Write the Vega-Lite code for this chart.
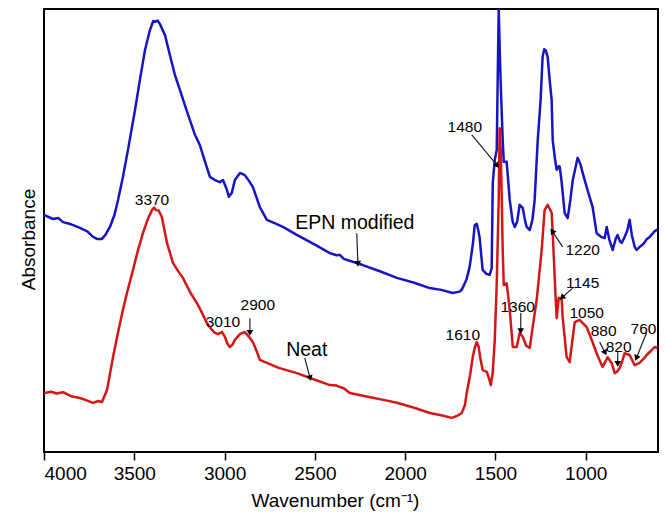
{
  "$schema": "https://vega.github.io/schema/vega-lite/v6.json",
  "width": 614,
  "height": 443,
  "autosize": {"type": "none"},
  "padding": {"left": 44, "top": 9, "right": 7, "bottom": 64},
  "background": "white",
  "config": {
    "view": {"stroke": "black", "strokeWidth": 2},
    "font": "Liberation Sans",
    "text": {"font": "Liberation Sans", "color": "black"}
  },
  "datasets": {
    "spectra": [
      {"series":"EPN modified","w":4000,"a":53.5},{"series":"EPN modified","w":3950,"a":52.6},{"series":"EPN modified","w":3920,"a":52.8},{"series":"EPN modified","w":3895,"a":51.9},{"series":"EPN modified","w":3850,"a":51.4},{"series":"EPN modified","w":3801,"a":50.6},{"series":"EPN modified","w":3760,"a":49.8},{"series":"EPN modified","w":3730,"a":48.6},{"series":"EPN modified","w":3707,"a":48.1},{"series":"EPN modified","w":3679,"a":48.1},{"series":"EPN modified","w":3660,"a":49.0},{"series":"EPN modified","w":3635,"a":50.8},{"series":"EPN modified","w":3610,"a":53.5},{"series":"EPN modified","w":3590,"a":56.9},{"series":"EPN modified","w":3563,"a":62.1},{"series":"EPN modified","w":3535,"a":68.2},{"series":"EPN modified","w":3496,"a":77.2},{"series":"EPN modified","w":3469,"a":84.0},{"series":"EPN modified","w":3441,"a":90.7},{"series":"EPN modified","w":3413,"a":95.3},{"series":"EPN modified","w":3395,"a":97.3},{"series":"EPN modified","w":3386,"a":97.1},{"series":"EPN modified","w":3372,"a":97.4},{"series":"EPN modified","w":3358,"a":96.6},{"series":"EPN modified","w":3330,"a":94.1},{"series":"EPN modified","w":3303,"a":89.6},{"series":"EPN modified","w":3275,"a":85.1},{"series":"EPN modified","w":3247,"a":81.7},{"series":"EPN modified","w":3220,"a":78.3},{"series":"EPN modified","w":3192,"a":74.9},{"series":"EPN modified","w":3164,"a":71.6},{"series":"EPN modified","w":3137,"a":69.3},{"series":"EPN modified","w":3100,"a":64.5},{"series":"EPN modified","w":3081,"a":62.1},{"series":"EPN modified","w":3050,"a":61.3},{"series":"EPN modified","w":3026,"a":60.9},{"series":"EPN modified","w":3009,"a":61.4},{"series":"EPN modified","w":2990,"a":59.5},{"series":"EPN modified","w":2976,"a":57.6},{"series":"EPN modified","w":2960,"a":58.5},{"series":"EPN modified","w":2943,"a":61.4},{"series":"EPN modified","w":2915,"a":63.0},{"series":"EPN modified","w":2888,"a":62.5},{"series":"EPN modified","w":2865,"a":61.2},{"series":"EPN modified","w":2843,"a":59.8},{"series":"EPN modified","w":2805,"a":55.3},{"series":"EPN modified","w":2766,"a":52.4},{"series":"EPN modified","w":2720,"a":51.6},{"series":"EPN modified","w":2677,"a":50.8},{"series":"EPN modified","w":2600,"a":49.0},{"series":"EPN modified","w":2500,"a":46.8},{"series":"EPN modified","w":2417,"a":44.9},{"series":"EPN modified","w":2380,"a":44.4},{"series":"EPN modified","w":2362,"a":44.5},{"series":"EPN modified","w":2340,"a":43.6},{"series":"EPN modified","w":2235,"a":42.2},{"series":"EPN modified","w":2140,"a":40.8},{"series":"EPN modified","w":2046,"a":39.3},{"series":"EPN modified","w":1950,"a":38.2},{"series":"EPN modified","w":1864,"a":37.0},{"series":"EPN modified","w":1800,"a":36.6},{"series":"EPN modified","w":1737,"a":35.9},{"series":"EPN modified","w":1700,"a":36.2},{"series":"EPN modified","w":1687,"a":36.6},{"series":"EPN modified","w":1660,"a":39.0},{"series":"EPN modified","w":1643,"a":41.8},{"series":"EPN modified","w":1625,"a":47.0},{"series":"EPN modified","w":1615,"a":51.2},{"series":"EPN modified","w":1604,"a":51.5},{"series":"EPN modified","w":1595,"a":50.0},{"series":"EPN modified","w":1588,"a":48.5},{"series":"EPN modified","w":1580,"a":45.0},{"series":"EPN modified","w":1571,"a":41.1},{"series":"EPN modified","w":1550,"a":40.2},{"series":"EPN modified","w":1532,"a":40.0},{"series":"EPN modified","w":1521,"a":41.5},{"series":"EPN modified","w":1515,"a":60.7},{"series":"EPN modified","w":1504,"a":65.9},{"series":"EPN modified","w":1493,"a":68.2},{"series":"EPN modified","w":1488,"a":83.3},{"series":"EPN modified","w":1482,"a":99.8},{"series":"EPN modified","w":1476,"a":90.0},{"series":"EPN modified","w":1471,"a":83.3},{"series":"EPN modified","w":1460,"a":70.4},{"series":"EPN modified","w":1454,"a":65.5},{"series":"EPN modified","w":1438,"a":65.5},{"series":"EPN modified","w":1421,"a":56.9},{"series":"EPN modified","w":1405,"a":52.0},{"series":"EPN modified","w":1393,"a":50.8},{"series":"EPN modified","w":1380,"a":52.0},{"series":"EPN modified","w":1366,"a":55.8},{"series":"EPN modified","w":1349,"a":55.1},{"series":"EPN modified","w":1335,"a":52.0},{"series":"EPN modified","w":1327,"a":50.8},{"series":"EPN modified","w":1310,"a":50.1},{"series":"EPN modified","w":1295,"a":52.5},{"series":"EPN modified","w":1283,"a":56.9},{"series":"EPN modified","w":1266,"a":70.4},{"series":"EPN modified","w":1250,"a":79.5},{"series":"EPN modified","w":1239,"a":89.2},{"series":"EPN modified","w":1230,"a":90.9},{"series":"EPN modified","w":1222,"a":90.7},{"series":"EPN modified","w":1211,"a":89.2},{"series":"EPN modified","w":1200,"a":84.0},{"series":"EPN modified","w":1189,"a":79.5},{"series":"EPN modified","w":1183,"a":70.4},{"series":"EPN modified","w":1170,"a":66.0},{"series":"EPN modified","w":1161,"a":63.7},{"series":"EPN modified","w":1150,"a":64.5},{"series":"EPN modified","w":1144,"a":64.4},{"series":"EPN modified","w":1133,"a":60.7},{"series":"EPN modified","w":1117,"a":54.0},{"series":"EPN modified","w":1100,"a":52.8},{"series":"EPN modified","w":1085,"a":57.0},{"series":"EPN modified","w":1072,"a":61.4},{"series":"EPN modified","w":1045,"a":66.4},{"series":"EPN modified","w":1030,"a":65.0},{"series":"EPN modified","w":1017,"a":63.0},{"series":"EPN modified","w":995,"a":59.8},{"series":"EPN modified","w":962,"a":55.3},{"series":"EPN modified","w":940,"a":49.4},{"series":"EPN modified","w":912,"a":48.5},{"series":"EPN modified","w":895,"a":48.3},{"series":"EPN modified","w":884,"a":50.8},{"series":"EPN modified","w":870,"a":48.0},{"series":"EPN modified","w":851,"a":45.6},{"series":"EPN modified","w":835,"a":48.0},{"series":"EPN modified","w":824,"a":49.0},{"series":"EPN modified","w":810,"a":47.5},{"series":"EPN modified","w":801,"a":47.2},{"series":"EPN modified","w":785,"a":48.5},{"series":"EPN modified","w":770,"a":50.0},{"series":"EPN modified","w":757,"a":52.4},{"series":"EPN modified","w":745,"a":49.0},{"series":"EPN modified","w":729,"a":46.3},{"series":"EPN modified","w":718,"a":45.6},{"series":"EPN modified","w":702,"a":46.3},{"series":"EPN modified","w":680,"a":47.0},{"series":"EPN modified","w":663,"a":48.0},{"series":"EPN modified","w":647,"a":48.5},{"series":"EPN modified","w":630,"a":49.3},{"series":"EPN modified","w":619,"a":49.8},{"series":"EPN modified","w":608,"a":50.1},{"series":"EPN modified","w":600,"a":50.3},
      {"series":"Neat","w":4000,"a":13.3},{"series":"Neat","w":3960,"a":13.6},{"series":"Neat","w":3930,"a":13.2},{"series":"Neat","w":3895,"a":13.5},{"series":"Neat","w":3850,"a":12.6},{"series":"Neat","w":3801,"a":12.2},{"series":"Neat","w":3760,"a":11.6},{"series":"Neat","w":3729,"a":11.1},{"series":"Neat","w":3700,"a":11.5},{"series":"Neat","w":3679,"a":11.3},{"series":"Neat","w":3651,"a":14.0},{"series":"Neat","w":3618,"a":21.4},{"series":"Neat","w":3590,"a":27.0},{"series":"Neat","w":3563,"a":32.1},{"series":"Neat","w":3535,"a":36.8},{"series":"Neat","w":3507,"a":41.1},{"series":"Neat","w":3480,"a":45.5},{"series":"Neat","w":3452,"a":49.4},{"series":"Neat","w":3425,"a":52.6},{"series":"Neat","w":3402,"a":54.6},{"series":"Neat","w":3390,"a":55.2},{"series":"Neat","w":3380,"a":54.6},{"series":"Neat","w":3365,"a":54.5},{"series":"Neat","w":3347,"a":53.0},{"series":"Neat","w":3319,"a":47.2},{"series":"Neat","w":3286,"a":42.7},{"series":"Neat","w":3260,"a":41.0},{"series":"Neat","w":3231,"a":39.3},{"series":"Neat","w":3190,"a":36.0},{"series":"Neat","w":3153,"a":33.6},{"series":"Neat","w":3125,"a":31.4},{"series":"Neat","w":3098,"a":29.1},{"series":"Neat","w":3075,"a":27.8},{"series":"Neat","w":3054,"a":26.9},{"series":"Neat","w":3035,"a":26.6},{"series":"Neat","w":3015,"a":27.1},{"series":"Neat","w":2998,"a":26.0},{"series":"Neat","w":2985,"a":24.5},{"series":"Neat","w":2971,"a":23.7},{"series":"Neat","w":2955,"a":24.3},{"series":"Neat","w":2943,"a":25.3},{"series":"Neat","w":2915,"a":26.6},{"series":"Neat","w":2888,"a":27.1},{"series":"Neat","w":2865,"a":26.0},{"series":"Neat","w":2843,"a":24.8},{"series":"Neat","w":2820,"a":22.5},{"series":"Neat","w":2805,"a":20.8},{"series":"Neat","w":2766,"a":20.1},{"series":"Neat","w":2700,"a":19.0},{"series":"Neat","w":2600,"a":17.8},{"series":"Neat","w":2500,"a":16.3},{"series":"Neat","w":2417,"a":15.1},{"series":"Neat","w":2380,"a":15.0},{"series":"Neat","w":2362,"a":14.7},{"series":"Neat","w":2340,"a":14.4},{"series":"Neat","w":2307,"a":13.3},{"series":"Neat","w":2200,"a":12.4},{"series":"Neat","w":2100,"a":11.6},{"series":"Neat","w":2046,"a":11.1},{"series":"Neat","w":1950,"a":10.0},{"series":"Neat","w":1864,"a":8.8},{"series":"Neat","w":1800,"a":8.3},{"series":"Neat","w":1742,"a":7.7},{"series":"Neat","w":1710,"a":8.2},{"series":"Neat","w":1687,"a":8.8},{"series":"Neat","w":1670,"a":10.5},{"series":"Neat","w":1659,"a":13.3},{"series":"Neat","w":1640,"a":17.5},{"series":"Neat","w":1626,"a":21.4},{"series":"Neat","w":1615,"a":23.5},{"series":"Neat","w":1604,"a":24.8},{"series":"Neat","w":1593,"a":23.7},{"series":"Neat","w":1583,"a":21.0},{"series":"Neat","w":1571,"a":18.5},{"series":"Neat","w":1548,"a":18.1},{"series":"Neat","w":1535,"a":16.5},{"series":"Neat","w":1526,"a":15.1},{"series":"Neat","w":1515,"a":18.0},{"series":"Neat","w":1504,"a":25.3},{"series":"Neat","w":1493,"a":38.1},{"series":"Neat","w":1482,"a":56.9},{"series":"Neat","w":1477,"a":73.1},{"series":"Neat","w":1471,"a":68.0},{"series":"Neat","w":1465,"a":56.9},{"series":"Neat","w":1460,"a":45.6},{"series":"Neat","w":1454,"a":37.7},{"series":"Neat","w":1438,"a":38.1},{"series":"Neat","w":1421,"a":32.1},{"series":"Neat","w":1404,"a":23.7},{"series":"Neat","w":1382,"a":23.7},{"series":"Neat","w":1366,"a":26.9},{"series":"Neat","w":1349,"a":26.0},{"series":"Neat","w":1330,"a":24.0},{"series":"Neat","w":1310,"a":23.5},{"series":"Neat","w":1294,"a":28.2},{"series":"Neat","w":1272,"a":34.3},{"series":"Neat","w":1244,"a":45.6},{"series":"Neat","w":1228,"a":54.6},{"series":"Neat","w":1211,"a":55.8},{"series":"Neat","w":1189,"a":54.0},{"series":"Neat","w":1183,"a":49.4},{"series":"Neat","w":1167,"a":35.0},{"series":"Neat","w":1161,"a":30.2},{"series":"Neat","w":1150,"a":34.8},{"series":"Neat","w":1133,"a":34.3},{"series":"Neat","w":1128,"a":30.5},{"series":"Neat","w":1106,"a":21.4},{"series":"Neat","w":1089,"a":20.3},{"series":"Neat","w":1075,"a":25.0},{"series":"Neat","w":1061,"a":29.3},{"series":"Neat","w":1034,"a":29.8},{"series":"Neat","w":995,"a":28.2},{"series":"Neat","w":967,"a":25.3},{"series":"Neat","w":940,"a":22.3},{"series":"Neat","w":907,"a":19.2},{"series":"Neat","w":890,"a":20.5},{"series":"Neat","w":879,"a":21.4},{"series":"Neat","w":857,"a":20.1},{"series":"Neat","w":840,"a":17.8},{"series":"Neat","w":825,"a":18.2},{"series":"Neat","w":812,"a":19.0},{"series":"Neat","w":798,"a":20.5},{"series":"Neat","w":785,"a":22.3},{"series":"Neat","w":757,"a":21.9},{"series":"Neat","w":729,"a":19.6},{"series":"Neat","w":702,"a":20.1},{"series":"Neat","w":680,"a":21.0},{"series":"Neat","w":663,"a":21.9},{"series":"Neat","w":640,"a":22.8},{"series":"Neat","w":619,"a":23.7},{"series":"Neat","w":608,"a":23.5},{"series":"Neat","w":600,"a":23.8}
    ],
    "arrows": [
      {"label":"2900","w1":2860,"a1":30.2,"w2":2860,"a2":27.1,"angle":180},
      {"label":"Neat","w1":2556,"a1":21.2,"w2":2528,"a2":16.9,"angle":165},
      {"label":"EPN modified","w1":2268,"a1":49.4,"w2":2262,"a2":42.7,"angle":178},
      {"label":"1480","w1":1631,"a1":71.6,"w2":1493,"a2":64.8,"angle":140},
      {"label":"1220","w1":1128,"a1":46.3,"w2":1183,"a2":49.7,"angle":-34},
      {"label":"1145","w1":1073,"a1":37.0,"w2":1128,"a2":35.0,"angle":-132},
      {"label":"1360","w1":1360,"a1":31.4,"w2":1360,"a2":27.5,"angle":180},
      {"label":"880","w1":923,"a1":24.8,"w2":895,"a2":22.6,"angle":153},
      {"label":"820","w1":823,"a1":22.6,"w2":823,"a2":20.1,"angle":180},
      {"label":"760","w1":663,"a1":26.9,"w2":718,"a2":21.4,"angle":-157}
    ],
    "peaks": [
      {"text":"3370","w":3402,"a":56.9},
      {"text":"3010","w":3009,"a":29.3},
      {"text":"2900","w":2816,"a":33.2},
      {"text":"1480","w":1670,"a":73.4},
      {"text":"1220","w":1017,"a":45.6},
      {"text":"1145","w":1017,"a":38.1},
      {"text":"1360","w":1377,"a":32.7},
      {"text":"1610","w":1681,"a":26.4},
      {"text":"1050","w":995,"a":31.4},
      {"text":"880","w":901,"a":27.3},
      {"text":"820","w":818,"a":23.7},
      {"text":"760","w":680,"a":27.8}
    ],
    "names": [
      {"text":"EPN modified","w":2279,"a":51.7},
      {"text":"Neat","w":2545,"a":23.0}
    ]
  },
  "encoding": {
    "x": {
      "field": "w", "type": "quantitative",
      "scale": {"domain": [600, 4000], "reverse": true, "nice": false, "zero": false},
      "axis": {
        "title": "Wavenumber (cm⁻¹)",
        "values": [4000, 3500, 3000, 2500, 2000, 1500, 1000],
        "format": "d",
        "grid": false, "domain": false,
        "tickSize": 8, "tickWidth": 1.5, "tickColor": "black",
        "labelFontSize": 19, "labelColor": "black", "labelPadding": 4,
        "labelFont": "Liberation Sans", "labelOverlap": false,
        "titleFontSize": 19, "titleFontWeight": "normal", "titleColor": "black",
        "titleFont": "Liberation Sans", "titlePadding": 8, "titleX": 291
      }
    },
    "y": {
      "field": "a", "type": "quantitative",
      "scale": {"domain": [0, 100], "nice": false},
      "axis": {
        "title": "Absorbance", "labels": false, "ticks": false, "domain": false, "grid": false,
        "titleFontSize": 19, "titleFontWeight": "normal", "titleColor": "black",
        "titleFont": "Liberation Sans", "titlePadding": 6, "titleY": 230
      }
    }
  },
  "layer": [
    {
      "data": {"name": "spectra"},
      "mark": {"type": "line", "strokeWidth": 2.5, "clip": true, "strokeJoin": "round"},
      "encoding": {
        "color": {"field": "series", "type": "nominal",
          "scale": {"domain": ["EPN modified", "Neat"], "range": ["#1515c4", "#d41616"]},
          "legend": null},
        "order": {"field": "w", "type": "quantitative", "sort": "descending"}
      }
    },
    {
      "data": {"name": "arrows"},
      "mark": {"type": "rule", "color": "#222", "strokeWidth": 1.2},
      "encoding": {
        "x": {"field": "w1", "type": "quantitative"},
        "y": {"field": "a1", "type": "quantitative"},
        "x2": {"field": "w2"},
        "y2": {"field": "a2"}
      }
    },
    {
      "data": {"name": "arrows"},
      "mark": {"type": "point", "shape": "triangle", "filled": true, "color": "black", "size": 45, "opacity": 1},
      "encoding": {
        "x": {"field": "w2", "type": "quantitative"},
        "y": {"field": "a2", "type": "quantitative"},
        "angle": {"field": "angle", "type": "quantitative", "scale": null}
      }
    },
    {
      "data": {"name": "peaks"},
      "mark": {"type": "text", "fontSize": 15.5, "font": "Liberation Sans", "color": "black", "align": "center", "baseline": "middle"},
      "encoding": {"text": {"field": "text"}}
    },
    {
      "data": {"name": "names"},
      "mark": {"type": "text", "fontSize": 19.5, "font": "Liberation Sans", "color": "black", "align": "center", "baseline": "middle"},
      "encoding": {"text": {"field": "text"}}
    }
  ]
}
